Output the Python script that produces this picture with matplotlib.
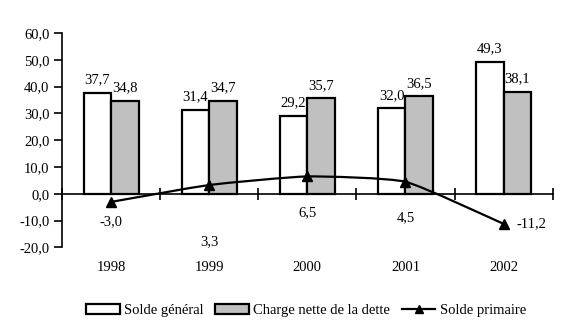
import matplotlib
matplotlib.use('Agg')
import matplotlib.pyplot as plt
import numpy as np
from matplotlib.path import Path
from matplotlib.patches import PathPatch, Patch
from matplotlib.lines import Line2D

years = ['1998', '1999', '2000', '2001', '2002']
solde_general = [37.7, 31.4, 29.2, 32.0, 49.3]
charge_dette = [34.8, 34.7, 35.7, 36.5, 38.1]
solde_primaire = [-3.0, 3.3, 6.5, 4.5, -11.2]

def fmt(v):
	return ('%.1f' % v).replace('.', ',')

def smooth_path(x, y, k=12.0):
	""" Builds a lightly smoothed Bezier path through the points (x, y) """
	pts = np.column_stack([x, y])
	verts = [pts[0]]
	codes = [Path.MOVETO]
	n = len(pts)
	for i in range(n - 1):
		p0 = pts[max(i - 1, 0)]
		p1 = pts[i]
		p2 = pts[i + 1]
		p3 = pts[min(i + 2, n - 1)]
		verts += [p1 + (p2 - p0) / k, p2 - (p3 - p1) / k, p2]
		codes += [Path.CURVE4] * 3
	return Path(verts, codes)

plt.rcParams['font.family'] = ['Liberation Serif', 'DejaVu Serif']
plt.rcParams['font.size'] = 10.5

fig = plt.figure(figsize=(5.7, 3.33), dpi=100)
ax = fig.add_axes([0.1088, 0.2568, 0.8608, 0.6441])

x = np.arange(len(years))
w = 0.28
ax.bar(x - w / 2, solde_general, w, color='white', edgecolor='black', linewidth=1.6, zorder=2)
ax.bar(x + w / 2, charge_dette, w, color='#c0c0c0', edgecolor='black', linewidth=1.6, zorder=2)

for i in range(len(years)):
	ax.annotate(fmt(solde_general[i]), (x[i] - w / 2, solde_general[i]), xytext=(0, 4.5),
		textcoords='offset points', ha='center', va='bottom')
	ax.annotate(fmt(charge_dette[i]), (x[i] + w / 2, charge_dette[i]), xytext=(0, 4.5),
		textcoords='offset points', ha='center', va='bottom')

# smoothed line for the primary balance
ax.add_patch(PathPatch(smooth_path(x, solde_primaire), facecolor='none', edgecolor='black',
	linewidth=1.6, zorder=4))
ax.plot(x, solde_primaire, linestyle='none', marker='^', color='black', markersize=7, zorder=5)

# label placement for the line values (data y, horizontal offset in px)
label_y = [-10.2, -18.0, -7.2, -8.7, -11.3]
label_dx = [0, 0, 0, 0, 13]
label_ha = ['center', 'center', 'center', 'center', 'left']
for i in range(len(years)):
	ax.annotate(fmt(solde_primaire[i]), (x[i], label_y[i]), xytext=(label_dx[i] * 0.72, 0),
		textcoords='offset points', ha=label_ha[i], va='center')

for i in range(len(years)):
	ax.text(x[i], -27.6, years[i], ha='center', va='center', clip_on=False)

ax.set_xlim(-0.5, len(years) - 0.5)
ax.set_ylim(-20, 60)
ax.set_yticks(np.arange(-20, 61, 10))
ax.set_yticklabels([fmt(v) for v in np.arange(-20, 61, 10)])
ax.set_xticks(np.arange(-0.5, len(years), 1.0))
ax.set_xticklabels([])

for s in ['top', 'right']:
	ax.spines[s].set_visible(False)
ax.spines['bottom'].set_position(('data', 0))
ax.spines['bottom'].set_linewidth(1.2)
ax.spines['left'].set_linewidth(1.2)
ax.tick_params(axis='y', direction='out', length=6, width=1.2, pad=3)
ax.tick_params(axis='x', direction='inout', length=8, width=1.2)

handles = [Patch(facecolor='white', edgecolor='black', linewidth=1.6),
	Patch(facecolor='#c0c0c0', edgecolor='black', linewidth=1.6),
	Line2D([], [], color='black', marker='^', markersize=6, linewidth=1.6)]
fig.legend(handles, ['Solde général', 'Charge nette de la dette', 'Solde primaire'],
	loc='center', bbox_to_anchor=(0.537, 0.068), ncol=3, frameon=False,
	handlelength=2.3, handleheight=0.65, handletextpad=0.3, columnspacing=0.8)

fig.savefig('out.png', dpi=100)
